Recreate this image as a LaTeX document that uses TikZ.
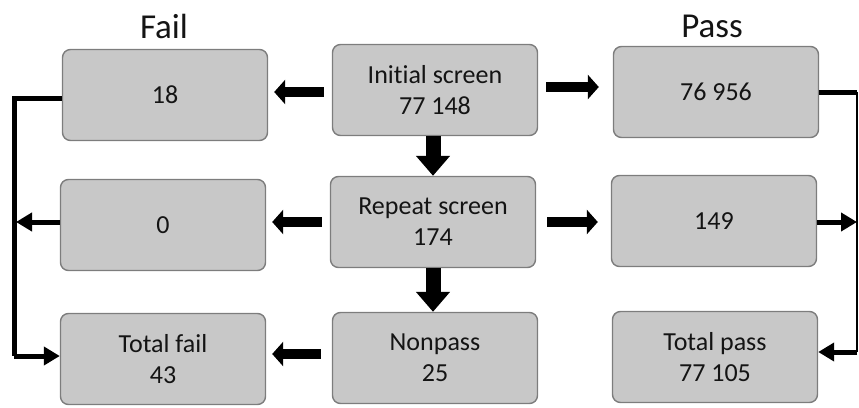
\documentclass[tikz,border=0pt]{standalone}
\usepackage{fontspec}
\setmainfont[Ligatures={NoCommon,NoContextual}]{Carlito}
\usetikzlibrary{arrows.meta}
\definecolor{boxfill}{RGB}{200,200,200}
\definecolor{boxline}{RGB}{125,125,125}
\definecolor{txt}{RGB}{20,20,20}
\tikzset{
  stepbox/.style={draw=boxline, line width=1.4pt, fill=boxfill, rounded corners=8pt,
    minimum width=205pt, minimum height=91pt, align=center, text=txt,
    font=\fontsize{26}{31}\selectfont, inner sep=0pt},
  title/.style={anchor=base, text=txt, font=\fontsize{35}{40}\selectfont, inner sep=0pt},
  harrow/.style={line width=9.5pt, -{Triangle[length=11pt,width=24pt]}},
  varrow/.style={line width=15pt, -{Triangle[length=20pt,width=33pt]}},
  fatline/.style={line width=5pt},
  fatarrow/.style={line width=5pt, -{Triangle[length=16pt,width=18pt]}},
  thinline/.style={line width=2pt},
}
\begin{document}
\begin{tikzpicture}[x=1pt,y=-1pt]
\useasboundingbox (0,0) rectangle (859,407);
\node[title] (fail) at (164,38) {Fail};
\node[title] (pass) at (712,37) {Pass};

\node[stepbox] (f1) at (165,95) {18};
\node[stepbox] (f2) at (163,225) {0};
\node[stepbox] (tf) at (163,359) {Total fail\\43};
\node[stepbox] (init) at (435,90) {Initial screen\\77 148};
\node[stepbox] (rep) at (433,222) {Repeat screen\\174};
\node[stepbox] (non) at (435,358) {Nonpass\\25};
\node[stepbox] (p1) at (716,92) {76 956};
\node[stepbox] (p2) at (714,221) {149};
\node[stepbox] (tp) at (715,357) {Total pass\\77 105};

\coordinate (L) at (14,0);
\coordinate (R) at (857,0);

% horizontal block arrows
\draw[harrow, shorten <=8pt, shorten >=6pt] ([yshift=-2pt]init.west) -- ([yshift=-2pt]init.west -| f1.east);
\draw[harrow, shorten <=8pt, shorten >=14pt] ([yshift=3pt]init.east) -- ([yshift=3pt]init.east -| p1.west);
\draw[harrow, shorten <=8pt, shorten >=6pt] (rep.west) -- (rep.west -| f2.east);
\draw[harrow, shorten <=11pt, shorten >=13pt] (rep.east) -- (rep.east -| p2.west);
\draw[harrow, shorten <=11pt, shorten >=6pt] ([yshift=4pt]non.west) -- ([yshift=4pt]non.west -| tf.east);

% vertical block arrows
\draw[varrow] (init.south -| rep.north) -- (rep.north);
\draw[varrow] (rep.south) -- (rep.south |- non.north);

% left collector
\draw[fatline] ([yshift=-3pt]f1.west) -- ([yshift=-3pt]f1.west -| L) -- ([yshift=3pt]tf.west -| L);
\draw[fatarrow] ([yshift=3pt]tf.west -| L) -- ([yshift=3pt]tf.west);
\draw[fatarrow] ([yshift=3pt]f2.west) -- ([xshift=2pt,yshift=3pt]f2.west -| L);

% right collector
\draw[fatline] (p1.east) -- (p1.east -| R);
\draw[thinline] (p1.east -| R) -- ([yshift=5pt]tp.east -| R);
\draw[fatarrow] ([yshift=-1pt]p2.east) -- ([yshift=-1pt]p2.east -| R);
\draw[fatarrow] ([yshift=5pt]tp.east -| R) -- ([yshift=5pt]tp.east);
\end{tikzpicture}
\end{document}
